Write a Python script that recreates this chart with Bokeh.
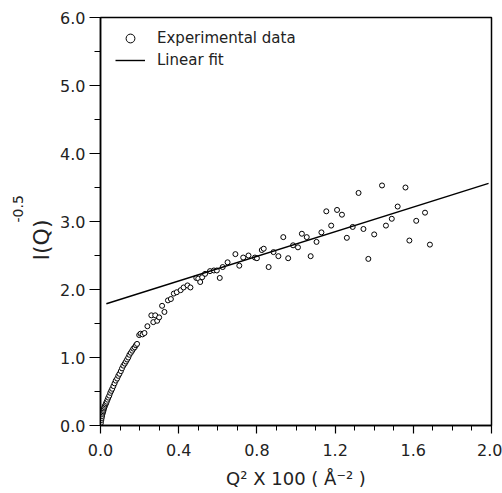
from bokeh.plotting import figure
from bokeh.models import ColumnDataSource, Range1d, FixedTicker, Legend, LegendItem, NumeralTickFormatter, Title
from bokeh.embed import file_html
from bokeh.resources import INLINE

# ---- data ----
q2 = [0.000, 0.002, 0.004, 0.006, 0.008, 0.010, 0.012, 0.014, 0.016, 0.018,
      0.020, 0.023, 0.026, 0.029, 0.032, 0.036, 0.040, 0.045, 0.050, 0.055,
      0.060, 0.066, 0.072, 0.078, 0.085, 0.091, 0.097, 0.104, 0.110, 0.117,
      0.124, 0.130, 0.136, 0.142, 0.148, 0.155, 0.162, 0.168, 0.175, 0.181,
      0.187, 0.198, 0.205, 0.215, 0.225, 0.240, 0.260, 0.270, 0.280, 0.290,
      0.300, 0.315, 0.327, 0.345, 0.360, 0.375, 0.390, 0.410, 0.425, 0.445,
      0.460, 0.490, 0.500, 0.510, 0.520, 0.535, 0.560, 0.580, 0.595, 0.610,
      0.625, 0.650, 0.690, 0.710, 0.730, 0.757, 0.790, 0.800, 0.825, 0.835,
      0.860, 0.885, 0.910, 0.935, 0.960, 0.985, 1.010, 1.030, 1.055, 1.075,
      1.105, 1.130, 1.155, 1.180, 1.210, 1.235, 1.260, 1.290, 1.320, 1.345,
      1.370, 1.400, 1.440, 1.460, 1.490, 1.520, 1.560, 1.580, 1.615, 1.660,
      1.685]
iq = [0.00, 0.04, 0.08, 0.11, 0.14, 0.17, 0.19, 0.21, 0.23, 0.25,
      0.27, 0.29, 0.31, 0.33, 0.35, 0.38, 0.41, 0.44, 0.48, 0.51,
      0.54, 0.58, 0.62, 0.66, 0.69, 0.73, 0.76, 0.80, 0.84, 0.88,
      0.91, 0.94, 0.97, 1.00, 1.04, 1.07, 1.10, 1.13, 1.15, 1.18,
      1.20, 1.33, 1.35, 1.34, 1.36, 1.46, 1.62, 1.52, 1.62, 1.54,
      1.59, 1.76, 1.67, 1.84, 1.86, 1.94, 1.96, 1.99, 2.03, 2.06,
      2.03, 2.17, 2.16, 2.11, 2.18, 2.23, 2.27, 2.28, 2.28, 2.17,
      2.33, 2.40, 2.52, 2.35, 2.47, 2.50, 2.47, 2.46, 2.58, 2.60,
      2.33, 2.55, 2.49, 2.77, 2.46, 2.65, 2.62, 2.82, 2.77, 2.49,
      2.70, 2.84, 3.15, 2.94, 3.17, 3.10, 2.76, 2.92, 3.42, 2.89,
      2.45, 2.81, 3.53, 2.94, 3.04, 3.22, 3.50, 2.72, 3.01, 3.13,
      2.66]

fit_x = [0.03, 1.985]
fit_y = [1.79, 3.56]

x_ticks = [0.0, 0.4, 0.8, 1.2, 1.6, 2.0]
x_minor = [0.1, 0.2, 0.3, 0.5, 0.6, 0.7, 0.9, 1.0, 1.1, 1.3, 1.4, 1.5, 1.7, 1.8, 1.9]
y_ticks = [0.0, 1.0, 2.0, 3.0, 4.0, 5.0, 6.0]
y_minor = [0.5, 1.5, 2.5, 3.5, 4.5, 5.5]

legend_labels = ["Experimental data", "Linear fit"]
x_title = "Q\u00b2 X 100 ( \u00c5\u207b\u00b2 )"
y_title = "I(Q)"
y_title_sup = "-0.5"

FONT = "DejaVu Sans"
INK = "#222222"

p = figure(width=502, height=493, x_range=Range1d(0, 2), y_range=Range1d(0, 6),
           output_backend="svg", toolbar_location=None,
           min_border_left=100, min_border_right=11, min_border_top=17, min_border_bottom=68)
p.grid.visible = False
p.outline_line_color = "black"
p.outline_line_width = 1.5
p.background_fill_color = "white"
p.border_fill_color = "white"

src = ColumnDataSource(dict(x=q2, y=iq))
pts = p.scatter(x="x", y="y", source=src, marker="circle", size=5,
                fill_color="white", line_color="black", line_width=1)
fit = p.line(fit_x, fit_y, line_color="black", line_width=1.4)

for ax, tk, mn in ((p.xaxis[0], x_ticks, x_minor), (p.yaxis[0], y_ticks, y_minor)):
    ax.ticker = FixedTicker(ticks=tk, minor_ticks=mn)
    ax.formatter = NumeralTickFormatter(format="0.0")
    ax.axis_line_color = "black"
    ax.axis_line_width = 1.5
    ax.major_tick_line_color = "black"
    ax.minor_tick_line_color = "black"
    ax.major_tick_line_width = 1.2
    ax.minor_tick_line_width = 1.0
    ax.major_tick_in = 0
    ax.minor_tick_in = 0
    ax.major_label_text_font = FONT
    ax.major_label_text_font_size = "16px"
    ax.major_label_text_color = INK
    ax.axis_label_text_font = FONT
    ax.axis_label_text_font_style = "normal"
    ax.axis_label_text_color = INK

p.yaxis.major_tick_out = 11
p.yaxis.minor_tick_out = 6
p.yaxis.major_label_standoff = 4

p.xaxis.major_tick_out = 8
p.xaxis.minor_tick_out = 5
p.xaxis.major_label_standoff = 10
p.xaxis.axis_label = x_title
p.xaxis.axis_label_text_font_size = "18px"
p.xaxis.axis_label_standoff = 9

p.add_layout(Title(text=y_title, align="left", offset=165, standoff=8,
                   text_font=FONT, text_font_size="22px", text_font_style="normal",
                   text_color=INK), "left")
p.add_layout(Title(text=y_title_sup, align="left", offset=203, standoff=0,
                   text_font=FONT, text_font_size="14px", text_font_style="normal",
                   text_color=INK), "left")

legend = Legend(items=[LegendItem(label=legend_labels[0], renderers=[pts]),
                       LegendItem(label=legend_labels[1], renderers=[fit])],
                location=(15, 354), margin=0, padding=0, spacing=0,
                glyph_width=30, glyph_height=22, label_standoff=12,
                background_fill_alpha=0, border_line_color=None,
                label_text_font=FONT, label_text_font_size="15px",
                label_text_color=INK)
p.add_layout(legend)

open("out.html", "w").write(file_html(p, INLINE))
